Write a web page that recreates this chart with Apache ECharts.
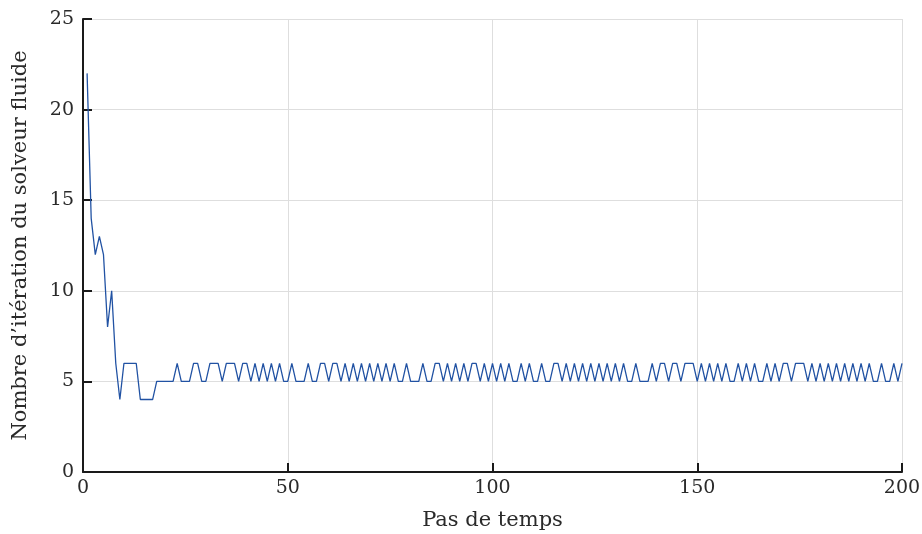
<!DOCTYPE html>
<html>
<head>
<meta charset="utf-8">
<script src="https://cdn.jsdelivr.net/npm/echarts@6/dist/echarts.min.js"></script>
<style>html,body{margin:0;padding:0;background:#fff;}#c{width:922px;height:534px;}</style>
</head>
<body>
<div id="c"></div>
<script>
// Data
const steps = Array.from({length: 200}, (_, i) => i + 1);
const iterations = [
  22,14,12,13,12,8,10,6,4,6,
  6,6,6,4,4,4,4,5,5,5,
  5,5,6,5,5,5,6,6,5,5,
  6,6,6,5,6,6,6,5,6,6,
  5,6,5,6,5,6,5,6,5,5,
  6,5,5,5,6,5,5,6,6,5,
  6,6,5,6,5,6,5,6,5,6,
  5,6,5,6,5,6,5,5,6,5,
  5,5,6,5,5,6,6,5,6,5,
  6,5,6,5,6,6,5,6,5,6,
  5,6,5,6,5,5,6,5,6,5,
  5,6,5,5,6,6,5,6,5,6,
  5,6,5,6,5,6,5,6,5,6,
  5,6,5,5,6,5,5,5,6,5,
  6,6,5,6,6,5,6,6,6,5,
  6,5,6,5,6,5,6,5,5,6,
  5,6,5,6,5,5,6,5,6,5,
  6,6,5,6,6,6,5,6,5,6,
  5,6,5,6,5,6,5,6,5,6,
  5,6,5,5,6,5,5,6,5,6
];
const xTicks = [0, 50, 100, 150, 200];
const yTicks = [0, 5, 10, 15, 20, 25];
const xLabel = 'Pas de temps';
const yLabel = 'Nombre d\u2019it\u00e9ration du solveur fluide';

const font = 'DejaVu Serif';
const chart = echarts.init(document.getElementById('c'), null, {renderer: 'canvas'});
chart.setOption({
  animation: false,
  backgroundColor: '#fff',
  grid: {left: 83, right: 20, top: 19, bottom: 62, containLabel: false, outerBoundsMode: 'none'},
  xAxis: {
    type: 'value', min: xTicks[0], max: xTicks[xTicks.length - 1], interval: 50,
    name: xLabel, nameLocation: 'middle', nameGap: 38,
    nameTextStyle: {fontFamily: font, fontSize: 21, color: '#2a2a2a'},
    axisLine: {show: true, lineStyle: {color: '#1a1a1a', width: 2}},
    axisTick: {show: true, inside: true, length: 9, lineStyle: {color: '#1a1a1a', width: 2}},
    axisLabel: {fontFamily: font, fontSize: 19, color: '#2a2a2a', margin: 7},
    splitLine: {show: true, lineStyle: {color: '#dedede', width: 1}}
  },
  yAxis: {
    type: 'value', min: yTicks[0], max: yTicks[yTicks.length - 1], interval: 5,
    name: yLabel, nameLocation: 'middle', nameGap: 52, nameRotate: 90,
    nameTextStyle: {fontFamily: font, fontSize: 21, color: '#2a2a2a'},
    axisLine: {show: true, lineStyle: {color: '#1a1a1a', width: 2}},
    axisTick: {show: true, inside: true, length: 9, lineStyle: {color: '#1a1a1a', width: 2}},
    axisLabel: {fontFamily: font, fontSize: 19, color: '#2a2a2a', margin: 9, align: 'right', verticalAlign: 'middle'},
    splitLine: {show: true, lineStyle: {color: '#dedede', width: 1}}
  },
  series: [{
    type: 'line',
    data: steps.map((s, i) => [s, iterations[i]]),
    showSymbol: false,
    lineStyle: {color: '#2152a3', width: 1.3},
    itemStyle: {color: '#2152a3'}
  }]
});
</script>
</body>
</html>
